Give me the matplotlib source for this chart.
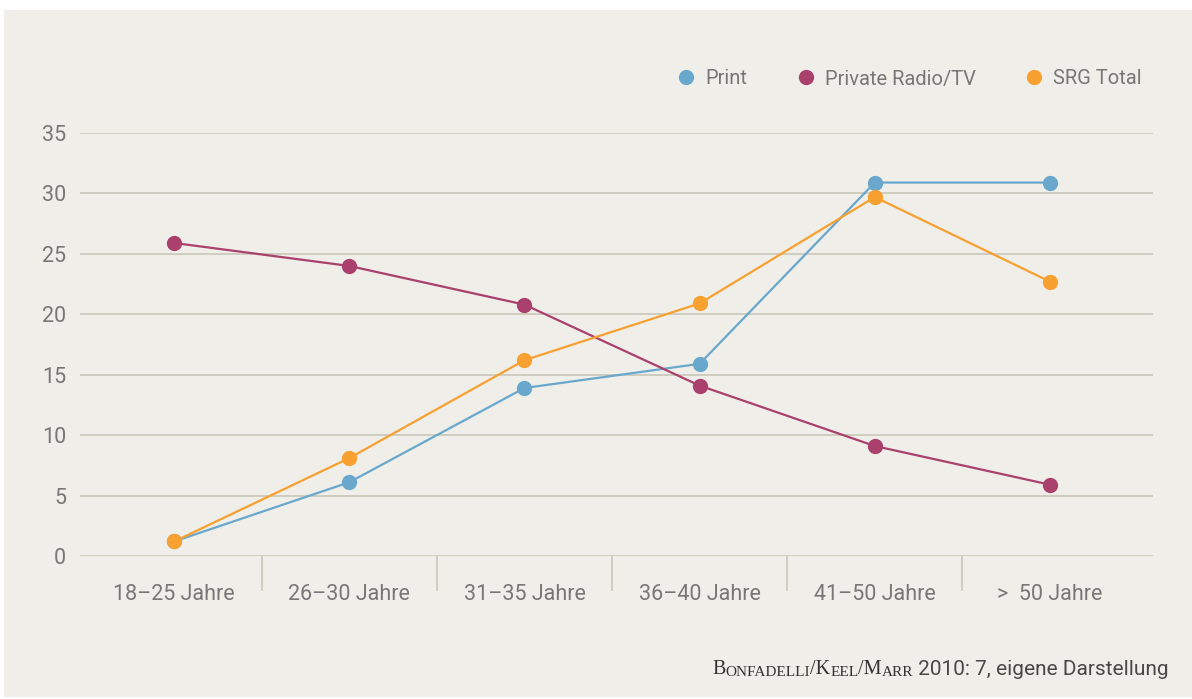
import matplotlib
matplotlib.use("Agg")
import matplotlib.pyplot as plt
from matplotlib.lines import Line2D
from matplotlib.patches import Rectangle

categories = ["18\u201325 Jahre", "26\u201330 Jahre", "31\u201335 Jahre",
              "36\u201340 Jahre", "41\u201350 Jahre", ">  50 Jahre"]
print_vals = [1.2, 6.1, 13.9, 15.9, 30.9, 30.9]
private_vals = [25.9, 24.0, 20.8, 14.1, 9.1, 5.9]
srg_vals = [1.2, 8.1, 16.2, 20.9, 29.7, 22.7]
series_names = ["Print", "Private Radio/TV", "SRG Total"]
yticks = [0, 5, 10, 15, 20, 25, 30, 35]

colors = ["#69a8cc", "#aa406c", "#f8a030"]
bg = "#efeee9"
grid_c = "#c9c7b7"
txt_c = "#777777"
font = "Roboto"

fig = plt.figure(figsize=(11.92, 6.99), dpi=100)
fig.patch.set_facecolor("white")
fig.patches.append(Rectangle((4/1192, 2/699), 1 - 4/1192, 1 - 12/699,
                             transform=fig.transFigure, facecolor=bg,
                             edgecolor="none", zorder=-10))

ax = fig.add_axes([80/1192, 143/699, 1073/1192, 423/699])
ax.set_facecolor("none")
x = list(range(len(categories)))
for vals, c in zip([print_vals, private_vals, srg_vals], colors):
    ax.plot(x, vals, color=c, lw=1.6, marker="o", markersize=11,
            markeredgewidth=0, clip_on=False, zorder=3)

ax.set_ylim(0, 35)
ax.set_xlim(-0.537, 5.588)
ax.set_yticks(yticks)
ax.set_yticklabels([str(v) for v in yticks], fontsize=15.5, color=txt_c,
                   fontfamily=font, fontweight="normal")
ax.tick_params(axis="y", length=0, pad=10)
for v in yticks:
    ax.axhline(v, color=grid_c, lw=1.2, zorder=1)
for s in ax.spines.values():
    s.set_visible(False)

ax.set_xticks([])
for i, lab in enumerate(categories):
    ax.text(i, -3.2, lab, ha="center", va="center", fontsize=15.5,
            color=txt_c, fontfamily=font, fontweight="normal",
            transform=ax.transData)
for i in range(len(categories) - 1):
    ax.plot([i + 0.5, i + 0.5], [0, -2.8], color=grid_c, lw=1.2,
            clip_on=False, zorder=1)

handles = [Line2D([], [], color=c, marker="o", linestyle="none",
                  markersize=11, markeredgewidth=0) for c in colors]
leg = fig.legend(handles, series_names, loc="center right",
                 bbox_to_anchor=(1160/1192, 1 - 79/699), ncol=3,
                 frameon=False, handletextpad=0.55, columnspacing=2.5,
                 prop={"family": font, "size": 14.5, "weight": "normal"},
                 labelcolor=txt_c, handlelength=0.8)

# source line with small caps
t0 = fig.text(712/1192, 1 - 674/699, "B", fontsize=14.5, fontfamily="Liberation Serif",
              color="#333333", ha="left", va="baseline")
parts = [("ONFADELLI", 11, "Liberation Serif"), ("/K", 14.5, "Liberation Serif"),
         ("EEL", 11, "Liberation Serif"), ("/M", 14.5, "Liberation Serif"),
         ("ARR", 11, "Liberation Serif"), (" 2010: 7, eigene Darstellung", 15, font)]
prev = t0
for s, fs, fam in parts:
    prev = ax.annotate(s, xy=(1, 0), xycoords=prev, xytext=(0, 0),
                       textcoords="offset points", fontsize=fs, fontfamily=fam,
                       color="#333333" if fam != font else "#484848",
                       ha="left", va="bottom", annotation_clip=False)

fig.savefig("out.png", dpi=100, facecolor=fig.get_facecolor())
